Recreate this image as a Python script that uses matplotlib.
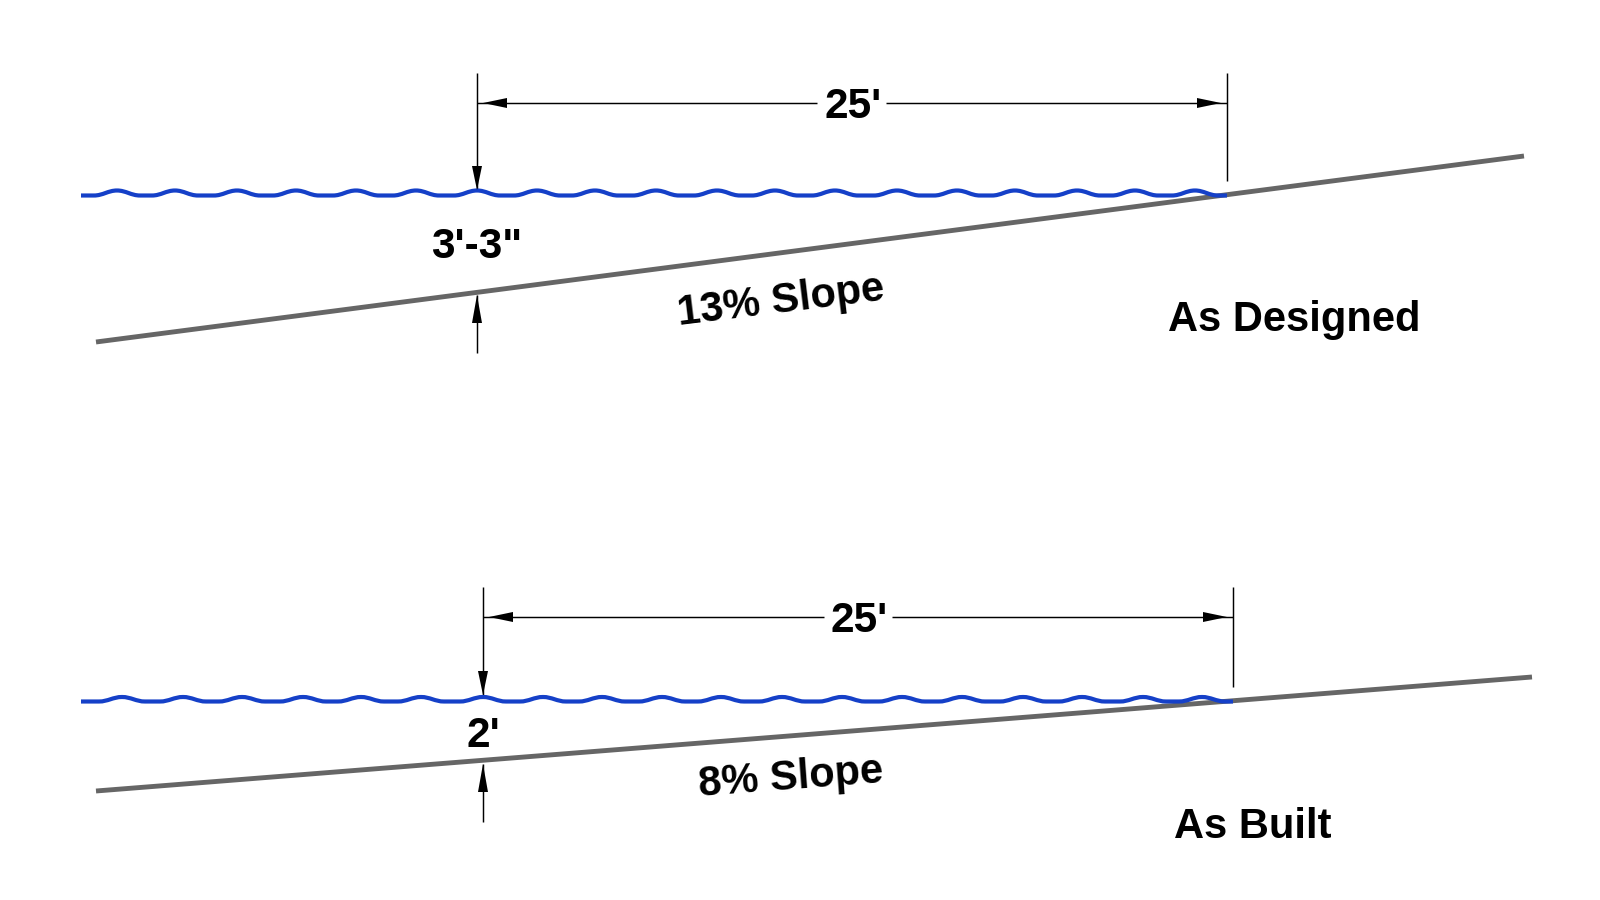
import matplotlib
matplotlib.use("Agg")
import matplotlib.pyplot as plt
from matplotlib.path import Path
from matplotlib.patches import PathPatch

# Wave crest positions
designed_crests = [117, 175, 237, 296, 356, 416, 477, 537, 595, 656, 717, 775,
                   835, 897, 957, 1015, 1077, 1135, 1195]
built_crests = [122, 183, 242, 303, 361, 421, 483, 543, 602, 662, 721, 782,
                842, 902, 962, 1023, 1082, 1143, 1202]

# Water level: x start, x end, trough y, crest y
designed_water = [81, 1227, 195.5, 190.5]
built_water = [81, 1233, 701.5, 697]

# Ground lines: (x0, y0), (x1, y1)
designed_ground = [(96, 342), (1524, 156)]
built_ground = [(96, 791), (1532, 677)]

# Dimension labels
designed_labels = ["25'", "3'-3\"", "13% Slope", "As Designed"]
built_labels = ["25'", "2'", "8% Slope", "As Built"]

BLUE = "#1540C8"
GREY = "#666666"
FONT = "Liberation Sans"

fig = plt.figure(figsize=(16, 9), dpi=100, facecolor="white")
ax = fig.add_axes([0, 0, 1, 1])
ax.set_xlim(0, 1600)
ax.set_ylim(900, 0)
ax.axis("off")


def water(crests, spec):
    x0, x1, trough, crest = spec
    half = 23
    verts = [(x0, trough)]
    codes = [Path.MOVETO]
    for p in crests:
        verts += [(p - half, trough),
                  (p - half + 9, trough), (p - 9, crest), (p, crest),
                  (p + 9, crest), (p + half - 9, trough), (p + half, trough)]
        codes += [Path.LINETO] + [Path.CURVE4] * 6
    verts.append((x1, trough))
    codes.append(Path.LINETO)
    ax.add_patch(PathPatch(Path(verts, codes), fill=False, edgecolor=BLUE,
                           lw=3.0, capstyle="butt", joinstyle="round", zorder=3))


def line(xs, ys, color="black", lw=1.05, z=2):
    ax.plot(xs, ys, color=color, lw=lw, solid_capstyle="butt", zorder=z)


def head(tip, tail, half=5):
    tx, ty = tip
    bx, by = tail
    if tx == bx:
        xs = [tx, bx - half, bx + half]
        ys = [ty, by, by]
    else:
        xs = [tx, bx, bx]
        ys = [ty, by - half, by + half]
    ax.fill(xs, ys, color="black", lw=0, zorder=4)


def label(x, y, s, size=30, rot=0, ha="left", va="baseline"):
    ax.text(x, y, s, family=FONT, weight="bold", fontsize=size, color="black",
            ha=ha, va=va, rotation=rot, rotation_mode="anchor", zorder=5)


def panel(crests, spec, ground, labels, g):
    (gx0, gy0), (gx1, gy1) = ground
    line([gx0, gx1], [gy0, gy1], color=GREY, lw=3.5, z=1)
    water(crests, spec)
    xl, xr = g["xl"], g["xr"]
    line([xl, xl], [g["top"], g["up_tip"]])
    line([xl, xl], [g["lo_tip"], g["bot"]])
    line([xr, xr], [g["top"], g["r_bot"]])
    line([xl, g["gap"][0]], [g["dim"], g["dim"]])
    line([g["gap"][1], xr], [g["dim"], g["dim"]])
    head((xl + 6, g["dim"]), (xl + 30, g["dim"]))
    head((xr - 6, g["dim"]), (xr - 30, g["dim"]))
    head((xl, g["up_tip"]), (xl, g["up_tip"] - 24))
    head((xl, g["lo_tip"]), (xl, g["lo_tip"] + 28))
    label(*g["span"], labels[0], size=30.5)
    label(*g["depth"], labels[1], size=30.5, ha="center")
    label(*g["slope"], labels[2], size=g["slope_size"], rot=g["slope_rot"], ha="center", va="center")
    label(*g["name"], labels[3], size=g["name_size"])


panel(designed_crests, designed_water, designed_ground, designed_labels,
      dict(xl=477, xr=1227, top=73, up_tip=190, lo_tip=295, bot=353, r_bot=181,
           dim=103, gap=(817, 886), span=(825, 118), depth=(477, 258),
           slope=(781, 301), slope_rot=7, slope_size=30,
           name=(1168, 331), name_size=30))
panel(built_crests, built_water, built_ground, built_labels,
      dict(xl=483, xr=1233, top=587, up_tip=695, lo_tip=764, bot=822, r_bot=687,
           dim=617, gap=(824, 892), span=(831, 632), depth=(483, 747),
           slope=(791, 778), slope_rot=4.3, slope_size=30,
           name=(1174, 838), name_size=30))

fig.savefig("out.png", dpi=100, facecolor="white")
